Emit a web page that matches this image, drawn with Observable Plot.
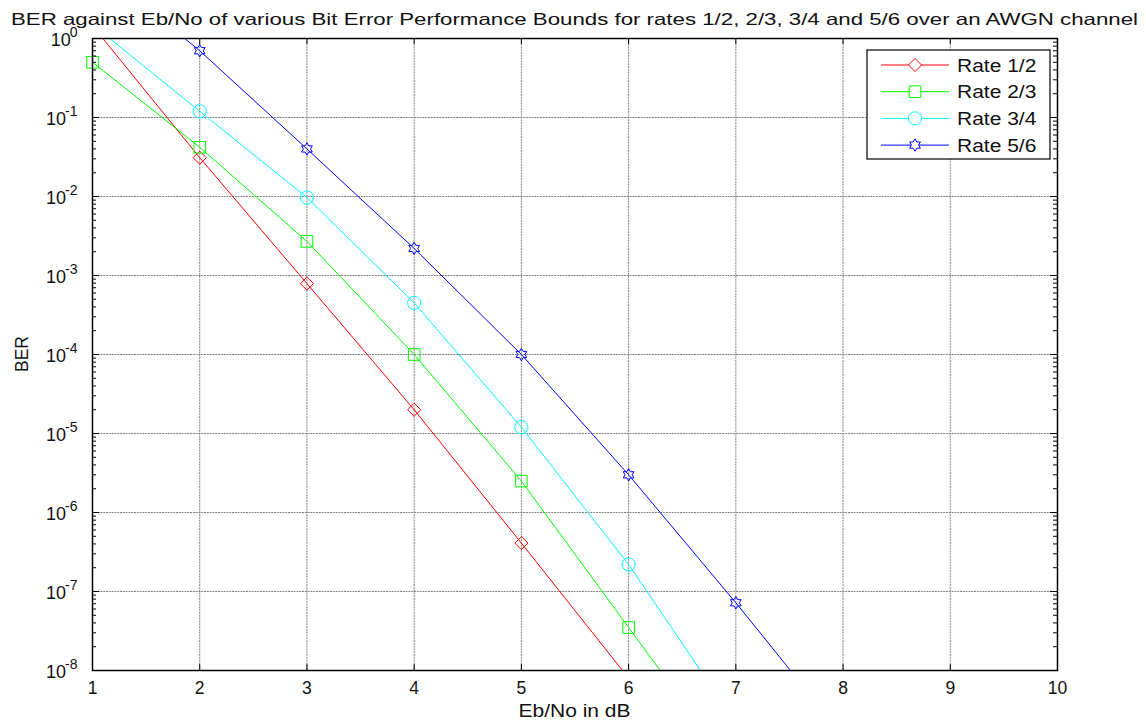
<!DOCTYPE html>
<html>
<head>
<meta charset="utf-8">
<script src="https://cdn.jsdelivr.net/npm/d3@7"></script>
<script src="https://cdn.jsdelivr.net/npm/@observablehq/plot@0.6"></script>
<style>
  html, body { margin: 0; padding: 0; background: #fff; }
  #wrap { position: relative; width: 1146px; height: 724px; font-family: "Liberation Sans", Arial, sans-serif; }
  #wrap > svg { position: absolute; left: 0; top: 0; }
  #overlay { pointer-events: none; }
</style>
</head>
<body>
<div id="wrap"></div>
<script>
// Eb/No sample points (dB) and bound values for each code rate
const ebno   = [1, 2, 3, 4, 5, 6, 7, 8];
const rate12 = [1.45, 0.031, 7.9e-4, 2.0e-5, 4.1e-7, 8.0e-9];
const rate23 = [0.5, 0.042, 2.7e-3, 1.0e-4, 2.5e-6, 3.5e-8, 5.0e-10];
const rate34 = [1.5, 0.12, 9.7e-3, 4.5e-4, 1.2e-5, 2.2e-7, 2.2e-9];
const rate56 = [9.0, 0.7, 0.04, 2.2e-3, 1.0e-4, 3.0e-6, 7.2e-8, 1.5e-9];

const seriesNames  = ["Rate 1/2", "Rate 2/3", "Rate 3/4", "Rate 5/6"];
const seriesValues = [rate12, rate23, rate34, rate56];
const seriesColors = ["#ff0000", "#00ff00", "#00ffff", "#0000ff"];

const xTicks = [1, 2, 3, 4, 5, 6, 7, 8, 9, 10];
const yDecades = [1e-8, 1e-7, 1e-6, 1e-5, 1e-4, 1e-3, 1e-2, 1e-1, 1];

const titleText = "BER against Eb/No of various Bit Error Performance Bounds for rates 1/2, 2/3, 3/4 and 5/6 over an AWGN channel";
const xLabel = "Eb/No in dB";
const yLabel = "BER";

// six-pointed star outline (hexagram) marker
const hexagram = {
  draw(ctx, size) {
    const R = Math.sqrt(size / Math.PI);
    const r = R / Math.sqrt(3);
    for (let i = 0; i < 12; i++) {
      const a = -Math.PI / 2 + i * Math.PI / 6;
      const rad = i % 2 ? r : R;
      const px = rad * Math.cos(a), py = rad * Math.sin(a);
      if (i === 0) ctx.moveTo(px, py); else ctx.lineTo(px, py);
    }
    ctx.closePath();
  }
};
const seriesSymbols = ["diamond2", "square2", "circle", hexagram];
const seriesR = [5.9, 7.4, 6.6, 6.2];

// long table built from the arrays above
const rows = seriesValues.flatMap((vals, s) =>
  vals.map((v, i) => ({ x: ebno[i], y: v, series: seriesNames[s] })));

const yMinor = d3.range(-8, 0).flatMap(e => d3.range(2, 10).map(k => k * Math.pow(10, e)));

const W = 1146, H = 724;
const mL = 92, mR = 89, mT = 38, mB = 54;
const fw = W - mL - mR, fh = H - mT - mB;

const gridStyle = { stroke: "#6e6e6e", strokeOpacity: 0.85, strokeWidth: 1, strokeDasharray: "2 0.8" };

const marks = [
  Plot.gridX(xTicks.slice(1, -1), gridStyle),
  Plot.gridY(yDecades.slice(1, -1), gridStyle),
];

seriesNames.forEach((name, s) => {
  const data = rows.filter(d => d.series === name);
  marks.push(Plot.line(data, { x: "x", y: "y", stroke: seriesColors[s], strokeWidth: 1, clip: true }));
  marks.push(Plot.dot(data.filter(d => d.y <= 1 && d.y >= 1e-8),
    { x: "x", y: "y", symbol: () => seriesSymbols[s], r: seriesR[s], stroke: seriesColors[s], fill: "none", strokeWidth: 1 }));
});

// inward tick marks on all four sides
marks.push(
  Plot.tickX(xTicks, { x: d => d, insetTop: fh - 6, stroke: "#000", strokeWidth: 1 }),
  Plot.tickX(xTicks, { x: d => d, insetBottom: fh - 6, stroke: "#000", strokeWidth: 1 }),
  Plot.tickY(yDecades, { y: d => d, insetRight: fw - 7, stroke: "#000", strokeWidth: 1 }),
  Plot.tickY(yDecades, { y: d => d, insetLeft: fw - 7, stroke: "#000", strokeWidth: 1 }),
  Plot.tickY(yMinor, { y: d => d, insetRight: fw - 4, stroke: "#000", strokeWidth: 1 }),
  Plot.tickY(yMinor, { y: d => d, insetLeft: fw - 4, stroke: "#000", strokeWidth: 1 }),
  Plot.axisX(xTicks, { anchor: "bottom", tickSize: 0, tickPadding: 11, fontSize: 17.5, label: null, fill: "#111" }),
  Plot.axisY(yDecades, { anchor: "left", tickSize: 0, tickPadding: 15, dy: 2, fontSize: 18, label: null, fill: "#111",
    tickFormat: d => String(Math.round(Math.log10(d))) }),
  Plot.frame({ stroke: "#000", strokeWidth: 1.5 })
);

const chart = Plot.plot({
  width: W, height: H,
  marginLeft: mL, marginRight: mR, marginTop: mT, marginBottom: mB,
  style: { fontFamily: "Liberation Sans, Arial, sans-serif", fontSize: "17px", background: "transparent" },
  x: { domain: [1, 10] },
  y: { type: "log", domain: [1e-8, 1] },
  marks
});
const wrap = document.getElementById("wrap");
wrap.appendChild(chart);

// power-of-ten tick labels: "10" with a raised exponent
chart.querySelectorAll('g[aria-label="y-axis tick label"] text').forEach(t => {
  const exp = t.textContent;
  t.textContent = "";
  const base = document.createElementNS("http://www.w3.org/2000/svg", "tspan");
  base.textContent = "10";
  const sup = document.createElementNS("http://www.w3.org/2000/svg", "tspan");
  sup.textContent = exp;
  sup.setAttribute("dy", "-9");
  sup.setAttribute("dx", "-1");
  sup.setAttribute("font-size", "14");
  t.appendChild(base);
  t.appendChild(sup);
});

// title, axis titles and legend on an overlay
const ov = d3.select(wrap).append("svg").attr("id", "overlay")
  .attr("width", W).attr("height", H)
  .style("font-family", "Liberation Sans, Arial, sans-serif");

function stretch(sel, factor) {
  const node = sel.node();
  const w = node.getComputedTextLength();
  sel.attr("textLength", w * factor).attr("lengthAdjust", "spacingAndGlyphs");
}

const title = ov.append("text")
  .attr("x", mL + fw / 2).attr("y", 25)
  .attr("text-anchor", "middle").attr("font-size", 16.5).attr("fill", "#111")
  .text(titleText);
title.attr("textLength", 1127).attr("lengthAdjust", "spacingAndGlyphs");

const xl = ov.append("text")
  .attr("x", mL + fw / 2).attr("y", 717)
  .attr("text-anchor", "middle").attr("font-size", 17.5).attr("fill", "#111")
  .text(xLabel);
stretch(xl, 1.2);

ov.append("text")
  .attr("transform", `translate(28,${mT + fh / 2}) rotate(-90)`)
  .attr("text-anchor", "middle").attr("font-size", 17.5).attr("fill", "#111")
  .text(yLabel);

const lg = ov.append("g").attr("transform", "translate(867,50)");
lg.append("rect").attr("width", 183).attr("height", 109)
  .attr("fill", "#fff").attr("stroke", "#000").attr("stroke-width", 1.2);
seriesNames.forEach((name, s) => {
  const cy = 15 + s * 26.7;
  lg.append("line").attr("x1", 14).attr("x2", 82).attr("y1", cy).attr("y2", cy)
    .attr("stroke", seriesColors[s]).attr("stroke-width", 1);
  const sym = typeof seriesSymbols[s] === "string"
    ? { diamond2: d3.symbolDiamond2, square2: d3.symbolSquare2, circle: d3.symbolCircle }[seriesSymbols[s]]
    : seriesSymbols[s];
  lg.append("path").attr("transform", `translate(48,${cy})`)
    .attr("d", d3.symbol(sym, Math.PI * seriesR[s] * seriesR[s])())
    .attr("fill", "#fff").attr("stroke", seriesColors[s]).attr("stroke-width", 1);
  const t = lg.append("text").attr("x", 90).attr("y", cy + 6.5)
    .attr("font-size", 17.5).attr("fill", "#111").text(name);
  stretch(t, 1.2);
});
</script>
</body>
</html>
